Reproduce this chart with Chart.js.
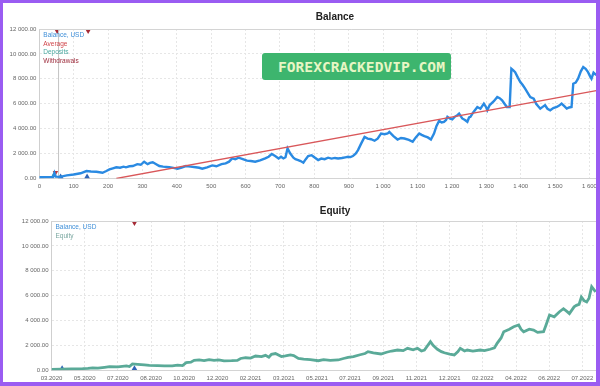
<!DOCTYPE html>
<html lang="en">
<head>
  <meta charset="UTF-8">
  <title>Balance / Equity</title>
  <script src="https://cdn.jsdelivr.net/npm/chart.js"></script>
  <style>
    body { margin: 0; background: #9a5cf2; width: 600px; height: 386px; overflow: hidden; }
    #page { position: absolute; left: 3px; top: 3px; width: 593px; height: 379px; background: #fff; overflow: hidden; }
    .box { position: absolute; left: 0; width: 593px; overflow: hidden; }
    #banner {
      position: absolute; left: 259px; top: 50px; width: 189px; height: 27px;
      background: #3db56e; border-radius: 3px; color: #e8f6c4;
      font: bold 14.6px "DejaVu Sans Mono", monospace; line-height: 27px;
      padding-left: 16px; box-sizing: border-box; white-space: nowrap;
    }
  </style>
</head>
<body>
<div id="page">
  <div class="box" style="top:0;height:190px"><canvas id="balanceChart" width="664" height="190"></canvas></div>
  <div class="box" style="top:192px;height:187px"><canvas id="equityChart" width="664" height="187"></canvas></div>
  <div id="banner">FOREXCRACKEDVIP.COM</div>
</div>

<script>
  // top chart: balance by trade number
  const balanceX = [0,20,40,44,48,60,80,100,108,120,137,150,166,184,195,204,214,224,235,245,252,262,272,285,295,305,315,322,330,340,349,360,378,390,402,414,426,440,455,465,474,488,503,515,530,542,552,561,570,580,592,604,615,628,642,657,667,676,686,696,703,710,716,722,730,739,745,753,760,768,775,782,792,800,811,820,830,840,850,860,869,880,890,898,905,912,920,927,936,946,955,965,975,984,994,1004,1013,1018,1030,1042,1052,1062,1075,1086,1095,1105,1112,1120,1130,1139,1148,1155,1163,1170,1177,1183,1187,1195,1201,1208,1216,1221,1230,1238,1245,1250,1254,1262,1274,1283,1293,1300,1303,1310,1322,1332,1339,1346,1353,1360,1368,1373,1378,1384,1392,1399,1406,1413,1420,1428,1438,1445,1451,1457,1464,1471,1478,1486,1495,1505,1512,1519,1527,1534,1541,1548,1553,1560,1567,1575,1582,1589,1596,1602,1606,1612,1620];
  const balanceY = [100,110,120,450,150,130,250,320,360,420,600,560,540,460,600,730,820,900,870,950,900,980,1000,1150,1100,1350,1150,1250,1300,1150,1000,950,900,850,790,880,1000,950,900,860,790,900,1050,980,1150,1210,1350,1610,1550,1670,1550,1430,1400,1350,1450,1610,1750,1960,1800,1610,1750,1610,1700,2410,2000,1670,1550,1480,1400,1270,1550,1800,1870,1700,1480,1600,1550,1670,1600,1650,1610,1650,1700,1740,1720,1800,2000,2280,2800,3340,3200,3150,3030,3200,3610,3550,3610,3740,3400,3130,3250,3210,3100,2950,3300,3610,3500,3400,3300,3130,3610,4200,4630,4500,4550,4700,4950,4800,4740,4950,5080,5210,4820,4700,4550,4900,4950,5300,5740,5600,6010,5700,5480,5900,6200,6540,6450,6280,6000,5740,5740,8810,8700,8540,8100,7740,7500,7210,6900,6540,6410,6000,5800,5610,5750,5880,5600,5480,5650,5740,5850,6010,5800,5610,5700,5740,7610,7700,8010,8600,8940,8800,8540,8200,8010,8500,8300];
  const averageX = [224, 1620];
  const averageY = [0, 7060];
  const startLineX = 56;
  const depositX = [42];      const depositY = [250];
  const withdrawX = [47];     const withdrawY = [480];
  const bottomMarkX = [62, 139];
  const topMarkX = [52, 142];

  // bottom chart: equity, x = position between date ticks
  const dateLabels = ['03.2020','05.2020','07.2020','08.2020','10.2020','12.2020','02.2021','03.2021','05.2021','07.2021','09.2021','11.2021','12.2021','02.2022','04.2022','06.2022','07.2022'];
  const equityX = [0,0.3,0.6,0.94,1.1,1.24,1.4,1.6,1.75,2.0,2.26,2.35,2.44,2.6,2.8,2.95,3.2,3.4,3.64,3.8,3.95,4.06,4.2,4.3,4.45,4.6,4.75,4.9,5.04,5.2,5.43,5.6,5.7,5.85,6.0,6.15,6.33,6.45,6.55,6.63,6.75,6.93,7.05,7.2,7.3,7.44,7.6,7.8,8.04,8.2,8.4,8.64,8.8,8.94,9.1,9.3,9.45,9.54,9.7,9.93,10.1,10.25,10.43,10.6,10.73,10.9,11.03,11.15,11.24,11.42,11.5,11.63,11.75,11.84,12.0,12.14,12.25,12.32,12.45,12.53,12.7,12.92,13.05,13.22,13.35,13.43,13.55,13.63,13.8,13.93,14.08,14.15,14.23,14.4,14.53,14.65,14.83,14.9,15.01,15.15,15.31,15.43,15.55,15.61,15.75,15.82,15.9,15.97,16.05,16.13,16.2,16.28,16.4];
  const equityY = [80,90,110,130,150,200,170,240,290,280,350,300,510,480,430,400,380,360,350,420,380,610,650,800,830,780,860,800,830,760,770,800,950,1010,980,1150,1100,1200,1050,1290,1350,1100,1150,1230,1180,960,900,850,770,850,800,830,950,1040,1100,1250,1350,1500,1400,1310,1450,1550,1630,1580,1770,1650,1770,1550,1630,2300,2000,1690,1500,1410,1300,1230,1500,1770,1550,1630,1550,1630,1580,1690,1800,2170,2600,3100,3300,3500,3640,3300,3100,3300,3230,3050,3100,3600,4440,4300,4710,4950,4700,4560,5100,5220,5300,5890,5600,5490,5800,6720,6300];
  const eqBottomMarkX = [0.32, 2.5];
  const eqTopMarkX = [2.5];

  const topLegend = ['Balance, USD', 'Average', 'Deposits', 'Withdrawals'];
  const topLegendColors = ['#3f8fd8', '#d0454a', '#4aa9a0', '#9c2a3a'];
  const bottomLegend = ['Balance, USD', 'Equity'];
  const bottomLegendColors = ['#3f8fd8', '#7aa7a0'];

  const pts = (xs, ys) => xs.map((x, i) => ({ x: x, y: ys[i] }));
  const fmtY = v => {
    const s = Math.round(v).toString().replace(/\B(?=(\d{3})+(?!\d))/g, ' ');
    return s + '.00';
  };
  const fmtX = v => v.toString().replace(/\B(?=(\d{3})+(?!\d))/g, ' ');
  const FONT = '"Liberation Sans", Arial, sans-serif';

  // top border line + text legend inside the plot
  const frame = {
    id: 'frame',
    afterDraw(chart, args, opts) {
      const { ctx, chartArea: a } = chart;
      ctx.save();
      ctx.strokeStyle = '#d4d4d4';
      ctx.lineWidth = 1;
      ctx.beginPath();
      ctx.moveTo(a.left, a.top + 0.5);
      ctx.lineTo(a.right, a.top + 0.5);
      ctx.stroke();
      ctx.font = '6.5px ' + FONT;
      ctx.textBaseline = 'middle';
      opts.names.forEach((n, i) => {
        ctx.fillStyle = opts.colors[i];
        ctx.fillText(n, a.left + 4, a.top + 6 + i * 8.8);
      });
      ctx.restore();
    }
  };

  function marker(xs, y, color, down) {
    return {
      data: xs.map(x => ({ x: x, y: y })),
      showLine: false, pointStyle: 'triangle', pointRadius: 3.2,
      pointRotation: down ? 180 : 0,
      backgroundColor: color, borderColor: color, borderWidth: 0, clip: false
    };
  }

  function baseOptions(cfg) {
    return {
      responsive: false,
      animation: false,
      layout: { padding: 0 },
      plugins: {
        legend: { display: false },
        tooltip: { enabled: false },
        title: {
          display: true, text: cfg.title, color: '#222',
          font: { family: FONT, size: 10, weight: 'bold' },
          padding: cfg.titlePad
        },
        frame: { names: cfg.names, colors: cfg.colors }
      },
      scales: {
        x: {
          type: 'linear', min: 0, max: cfg.xMax,
          afterFit: s => { s.height = cfg.xHeight; s.paddingLeft = 0; s.paddingRight = 0; },
          ticks: { stepSize: cfg.xStep, padding: 4, color: '#666', maxRotation: 0, autoSkip: false,
                   includeBounds: false,
                   font: { family: FONT, size: 6 }, callback: cfg.xLabel },
          grid: { color: '#e6e6e6', drawTicks: false },
          border: { display: true, color: '#d4d4d4', dash: [2, 2] }
        },
        y: {
          min: 0, max: 12000,
          afterFit: s => { s.width = cfg.yWidth; s.paddingTop = 0; s.paddingBottom = 0; },
          ticks: { stepSize: 2000, padding: 3, color: '#666',
                   font: { family: FONT, size: 6 }, callback: fmtY },
          grid: { color: '#e6e6e6', drawTicks: false },
          border: { display: true, color: '#cfcfcf', dash: [2, 2] }
        }
      }
    };
  }

  new Chart(document.getElementById('balanceChart'), {
    type: 'line',
    data: {
      datasets: [
        { data: pts(averageX, averageY), borderColor: '#d9575a', borderWidth: 1.3, pointRadius: 0 },
        { data: pts(balanceX, balanceY), borderColor: '#2a8ae2', borderWidth: 2.4, pointRadius: 0, tension: 0 },
        { data: [{ x: startLineX, y: 0 }, { x: startLineX, y: 12000 }], borderColor: '#c4c4c4', borderWidth: 1, pointRadius: 0 },
        marker(depositX, depositY[0], '#3aa58f', false),
        marker(withdrawX, withdrawY[0], '#c0393f', true),
        marker(bottomMarkX, 150, '#2f64b8', false),
        marker(topMarkX, 11850, '#a52a35', true)
      ]
    },
    options: baseOptions({
      title: 'Balance', titlePad: { top: 8, bottom: 6 },
      xMax: 1814, xStep: 100, xLabel: fmtX, xHeight: 14.5, yWidth: 36.3,
      names: topLegend, colors: topLegendColors
    }),
    plugins: [frame]
  });

  new Chart(document.getElementById('equityChart'), {
    type: 'line',
    data: {
      datasets: [
        { data: pts(equityX, equityY), borderColor: '#5aaa98', borderWidth: 2.8, pointRadius: 0, tension: 0 },
        marker(eqBottomMarkX, 150, '#2f64b8', false),
        marker(eqTopMarkX, 11850, '#a52a35', true)
      ]
    },
    options: baseOptions({
      title: 'Equity', titlePad: { top: 10, bottom: 4 },
      xMax: 18.43, xStep: 1, xLabel: v => dateLabels[v] || '', xHeight: 11.7, yWidth: 48.5,
      names: bottomLegend, colors: bottomLegendColors
    }),
    plugins: [frame]
  });
</script>
</body>
</html>
